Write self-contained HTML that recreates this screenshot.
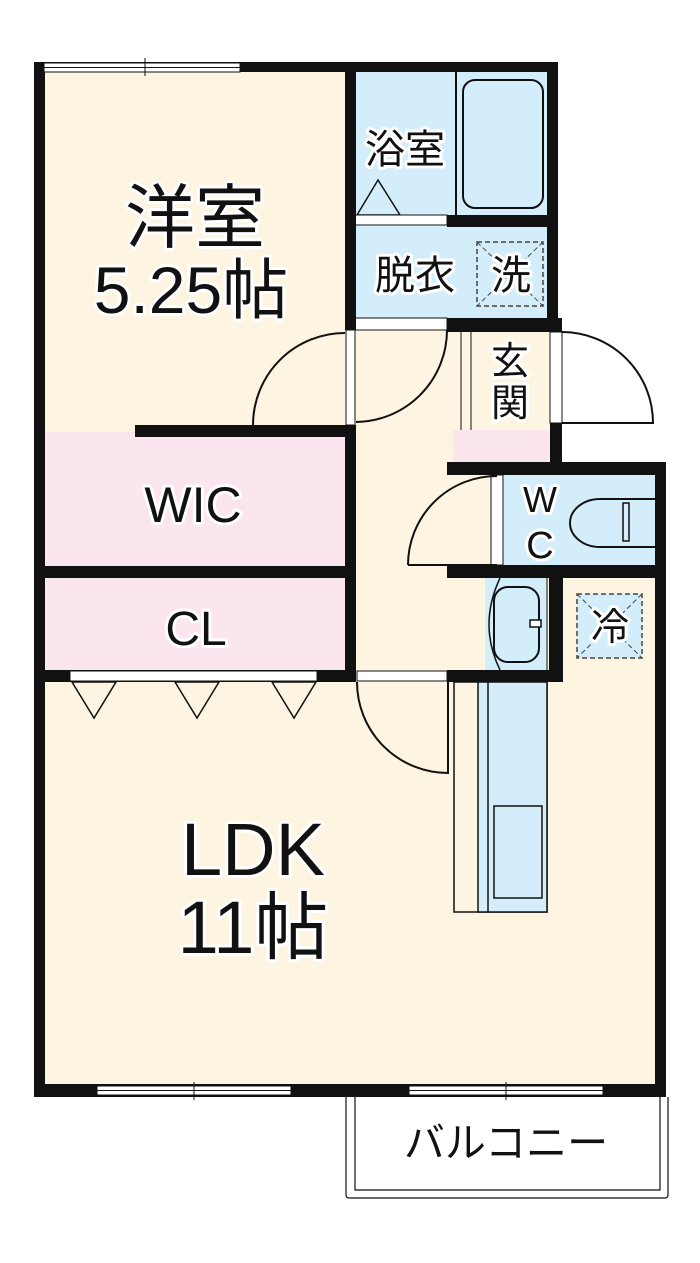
<!DOCTYPE html>
<html><head><meta charset="utf-8"><style>
html,body{margin:0;padding:0;background:#fff;width:700px;height:1263px;overflow:hidden}
text{font-family:"Liberation Sans","Noto Sans CJK JP",sans-serif;fill:#111;paint-order:stroke;stroke:#fff;stroke-width:6px;stroke-linejoin:round}
</style></head><body>
<svg width="700" height="1263" viewBox="0 0 700 1263" xmlns="http://www.w3.org/2000/svg">
<rect x="40" y="68" width="310" height="1022" fill="#fdf5e2"/>
<rect x="350" y="320" width="310" height="770" fill="#fdf5e2"/>
<rect x="560" y="320" width="100" height="150" fill="#fff"/>
<rect x="40" y="432" width="310" height="240" fill="#fbe5ef"/>
<rect x="350" y="68" width="202" height="255" fill="#d3eefa"/>
<rect x="453" y="430" width="97" height="32" fill="#fbe5ef"/>
<rect x="500" y="470" width="158" height="100" fill="#d3eefa"/>
<rect x="485" y="575" width="63" height="100" fill="#d3eefa"/>
<line x1="456" y1="68" x2="456" y2="218" stroke="#111" stroke-width="2"/>
<rect x="463" y="80" width="80" height="128" rx="12" fill="#d3eefa" stroke="#111" stroke-width="2"/>
<polygon points="357,215 378,180 400,215" fill="none" stroke="#111" stroke-width="1.5"/>
<rect x="355" y="215" width="92" height="10" fill="#fff" stroke="#111" stroke-width="1"/>
<rect x="447" y="215" width="110" height="12" fill="#111"/>
<rect x="477" y="242" width="66" height="64" fill="none" stroke="#444" stroke-width="1.5" stroke-dasharray="5,3"/>
<line x1="477" y1="242" x2="543" y2="306" stroke="#444" stroke-width="1" stroke-dasharray="5,3"/>
<line x1="543" y1="242" x2="477" y2="306" stroke="#444" stroke-width="1" stroke-dasharray="5,3"/>
<rect x="355" y="318" width="92" height="12" fill="#fff" stroke="#111" stroke-width="1"/>
<rect x="447" y="318" width="115" height="14" fill="#111"/>
<rect x="34" y="62" width="11" height="1035" fill="#111"/>
<rect x="34" y="62" width="523" height="10" fill="#111"/>
<rect x="44" y="63" width="196" height="9" fill="#fff" stroke="#111" stroke-width="1"/>
<line x1="44" y1="67.5" x2="240" y2="67.5" stroke="#111" stroke-width="1"/>
<line x1="145" y1="58" x2="145" y2="76" stroke="#111" stroke-width="1"/>
<rect x="345" y="62" width="11" height="268" fill="#111"/>
<rect x="547" y="62" width="11" height="270" fill="#111"/>
<rect x="345" y="425" width="11" height="257" fill="#111"/>
<rect x="135" y="425" width="220" height="12" fill="#111"/>
<rect x="34" y="566" width="321" height="12" fill="#111"/>
<rect x="34" y="670" width="321" height="12" fill="#111"/>
<rect x="70" y="671" width="247" height="10" fill="#fff" stroke="#111" stroke-width="1"/>
<polygon points="72,682 116,682 94,718" fill="none" stroke="#111" stroke-width="1.5"/>
<polygon points="175,682 219,682 197,718" fill="none" stroke="#111" stroke-width="1.5"/>
<polygon points="272,682 316,682 294,718" fill="none" stroke="#111" stroke-width="1.5"/>
<rect x="346" y="330" width="9" height="95" fill="#fff" stroke="#111" stroke-width="1"/>
<path d="M253,425 A92,92 0 0 1 345,333" fill="none" stroke="#111" stroke-width="2"/>
<path d="M447,330 A92,92 0 0 1 356,422" fill="none" stroke="#111" stroke-width="2"/>
<line x1="461" y1="332" x2="461" y2="430" stroke="#111" stroke-width="1"/>
<line x1="471" y1="332" x2="471" y2="430" stroke="#111" stroke-width="1"/>
<rect x="550" y="332" width="12" height="91" fill="#fff" stroke="#111" stroke-width="1"/>
<rect x="550" y="423" width="12" height="45" fill="#111"/>
<path d="M562,332 A91,91 0 0 1 653,423 L562,423" fill="none" stroke="#111" stroke-width="2"/>
<rect x="447" y="462" width="218" height="13" fill="#111"/>
<rect x="491" y="475" width="12" height="90" fill="#fff" stroke="#111" stroke-width="1"/>
<path d="M408,565 A89,89 0 0 1 497,476" fill="none" stroke="#111" stroke-width="2"/>
<line x1="408" y1="565" x2="497" y2="565" stroke="#111" stroke-width="2"/>
<path d="M655,499 L600,499 A30,24 0 0 0 600,547 L655,547" fill="#d3eefa" stroke="#111" stroke-width="2"/>
<rect x="623" y="503" width="6" height="38" fill="none" stroke="#111" stroke-width="1.5"/>
<rect x="447" y="565" width="218" height="13" fill="#111"/>
<rect x="655" y="462" width="11" height="635" fill="#111"/>
<path d="M500,578 Q478,625 500,670" fill="none" stroke="#111" stroke-width="1.5"/>
<rect x="494" y="587" width="45" height="75" rx="14" fill="#d3eefa" stroke="#111" stroke-width="2"/>
<rect x="530" y="620" width="11" height="7" fill="#fff" stroke="#111" stroke-width="1.5"/>
<line x1="547" y1="578" x2="547" y2="670" stroke="#111" stroke-width="1"/>
<rect x="549" y="570" width="14" height="112" fill="#111"/>
<rect x="447" y="670" width="116" height="12" fill="#111"/>
<rect x="577" y="594" width="65" height="64" fill="#d3eefa" stroke="#444" stroke-width="1.5" stroke-dasharray="5,3"/>
<line x1="577" y1="594" x2="642" y2="658" stroke="#444" stroke-width="1" stroke-dasharray="5,3"/>
<line x1="642" y1="594" x2="577" y2="658" stroke="#444" stroke-width="1" stroke-dasharray="5,3"/>
<rect x="357" y="671" width="90" height="10" fill="#fff" stroke="#111" stroke-width="1"/>
<path d="M357,682 A91,91 0 0 0 448,773 L448,682" fill="none" stroke="#111" stroke-width="2"/>
<rect x="454" y="682" width="93" height="230" fill="none" stroke="#111" stroke-width="1.5"/>
<rect x="478" y="682" width="69" height="230" fill="#d3eefa" stroke="#111" stroke-width="1.5"/>
<line x1="488" y1="682" x2="488" y2="912" stroke="#111" stroke-width="1.5"/>
<rect x="494" y="806" width="48" height="92" fill="#d3eefa" stroke="#111" stroke-width="1.5"/>
<rect x="34" y="1084" width="632" height="13" fill="#111"/>
<rect x="97" y="1086" width="194" height="9" fill="#fff" stroke="#111" stroke-width="1"/>
<line x1="97" y1="1090.5" x2="291" y2="1090.5" stroke="#111" stroke-width="1"/>
<line x1="194" y1="1082" x2="194" y2="1100" stroke="#111" stroke-width="1"/>
<rect x="409" y="1086" width="194" height="9" fill="#fff" stroke="#111" stroke-width="1"/>
<line x1="409" y1="1090.5" x2="603" y2="1090.5" stroke="#111" stroke-width="1"/>
<line x1="506" y1="1082" x2="506" y2="1100" stroke="#111" stroke-width="1"/>
<path d="M346,1097 L346,1195 Q346,1198 349,1198 L665,1198 Q668,1198 668,1195 L668,1097" fill="none" stroke="#111" stroke-width="1.2"/>
<path d="M355,1097 L355,1190 L660,1190 L660,1097" fill="none" stroke="#111" stroke-width="1.2"/>
<text x="195" y="242" font-size="70" text-anchor="middle">洋室</text>
<text x="191" y="313" font-size="66" text-anchor="middle">5.25帖</text>
<text x="405" y="163" font-size="40" text-anchor="middle">浴室</text>
<text x="415" y="289" font-size="40" text-anchor="middle">脱衣</text>
<text x="511" y="289" font-size="40" text-anchor="middle">洗</text>
<text x="510" y="374" font-size="38" text-anchor="middle">玄</text>
<text x="510" y="416" font-size="38" text-anchor="middle">関</text>
<text x="540" y="512" font-size="36" text-anchor="middle">W</text>
<text x="540" y="558" font-size="38" text-anchor="middle">C</text>
<text x="610" y="640" font-size="38" text-anchor="middle">冷</text>
<text x="193" y="522" font-size="50" text-anchor="middle">WIC</text>
<text x="196" y="645" font-size="48" text-anchor="middle">CL</text>
<text x="253" y="875" font-size="74" text-anchor="middle">LDK</text>
<text x="253" y="953" font-size="74" text-anchor="middle">11帖</text>
<text x="506" y="1157" font-size="41" text-anchor="middle">バルコニー</text>
</svg>
</body></html>
